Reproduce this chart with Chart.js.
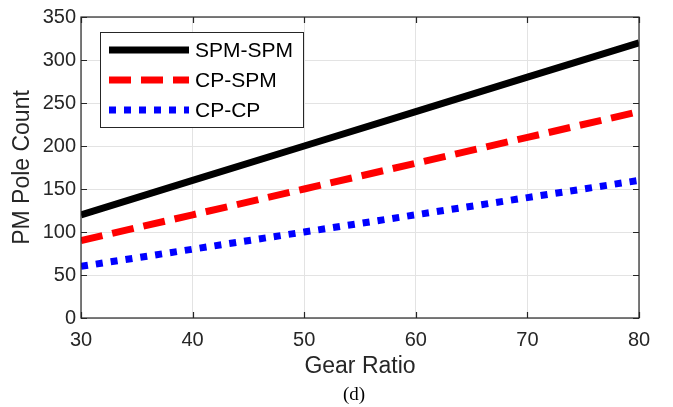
<!DOCTYPE html>
<html>
<head>
<meta charset="utf-8">
<script src="https://cdn.jsdelivr.net/npm/chart.js@4"></script>
<style>
  html, body { margin: 0; padding: 0; background: #fff; }
  #wrap { position: relative; width: 673px; height: 407px; }
</style>
</head>
<body>
<div id="wrap"><canvas id="c" width="673" height="407"></canvas></div>
<script>
// gear ratio vs PM pole count, panel (d)
const gearRatio = [30, 40, 50, 60, 70, 80];
const spmSpm = [120, 160, 200, 240, 280, 320];
const cpSpm = [90, 120, 150, 180, 210, 240];
const cpCp = [60, 80, 100, 120, 140, 160];
const seriesNames = ['SPM-SPM', 'CP-SPM', 'CP-CP'];
const xTicks = [30, 40, 50, 60, 70, 80];
const yTicks = [0, 50, 100, 150, 200, 250, 300, 350];

const AXIS = '#262626';
const FONT = '"Liberation Sans", Arial, sans-serif';

function pts(ys) {
  return gearRatio.map((x, i) => ({x, y: ys[i]}));
}

// MATLAB style: box, inward ticks, legend inside axes, caption under
const matlabBox = {
  id: 'matlabBox',
  afterDraw(chart) {
    const {ctx, chartArea: a, scales} = chart;
    const xs = scales.x, ys = scales.y;
    ctx.save();
    ctx.strokeStyle = AXIS;
    ctx.lineWidth = 1.2;
    ctx.strokeRect(a.left, a.top, a.right - a.left, a.bottom - a.top);
    ctx.beginPath();
    xTicks.forEach(v => {
      const px = Math.round(xs.getPixelForValue(v)) + 0.5;
      ctx.moveTo(px, a.bottom); ctx.lineTo(px, a.bottom - 6);
      ctx.moveTo(px, a.top); ctx.lineTo(px, a.top + 6);
    });
    yTicks.forEach(v => {
      const py = Math.round(ys.getPixelForValue(v)) + 0.5;
      ctx.moveTo(a.left, py); ctx.lineTo(a.left + 6, py);
      ctx.moveTo(a.right, py); ctx.lineTo(a.right - 6, py);
    });
    ctx.stroke();

    // legend
    const lx = 100, ly = 32, lw = 203, lh = 95;
    ctx.fillStyle = '#fff';
    ctx.fillRect(lx, ly, lw, lh);
    ctx.strokeStyle = AXIS;
    ctx.lineWidth = 1;
    ctx.strokeRect(lx + 0.5, ly + 0.5, lw, lh);
    chart.data.datasets.forEach((ds, i) => {
      const y = ly + 18 + i * 30;
      ctx.beginPath();
      ctx.strokeStyle = ds.borderColor;
      ctx.lineWidth = ds.borderWidth;
      ctx.setLineDash(ds.borderDash || []);
      ctx.moveTo(109, y); ctx.lineTo(189, y);
      ctx.stroke();
      ctx.setLineDash([]);
      ctx.fillStyle = '#000';
      ctx.font = '21px ' + FONT;
      ctx.textBaseline = 'middle';
      ctx.textAlign = 'left';
      ctx.fillText(ds.label, 195, y + 1);
    });

    ctx.fillStyle = '#000';
    ctx.font = '19px "Liberation Serif", "Times New Roman", serif';
    ctx.textAlign = 'center';
    ctx.textBaseline = 'middle';
    ctx.fillText('(d)', 354, 395);
    ctx.restore();
  }
};

new Chart(document.getElementById('c'), {
  type: 'line',
  data: {
    datasets: [
      {label: seriesNames[0], data: pts(spmSpm), borderColor: '#000000', borderWidth: 7},
      {label: seriesNames[1], data: pts(cpSpm), borderColor: '#ff0000', borderWidth: 7, borderDash: [22, 10]},
      {label: seriesNames[2], data: pts(cpCp), borderColor: '#0000ff', borderWidth: 7, borderDash: [7, 8]}
    ]
  },
  options: {
    responsive: false,
    animation: false,
    layout: {padding: {left: 0, top: 16, right: 34, bottom: 0}},
    elements: {
      point: {radius: 0},
      line: {tension: 0, borderCapStyle: 'butt', fill: false}
    },
    plugins: {legend: {display: false}, tooltip: {enabled: false}},
    scales: {
      x: {
        type: 'linear', min: 30, max: 80,
        afterFit(s) { s.height = 89; },
        afterBuildTicks(s) { s.ticks = xTicks.map(v => ({value: v})); },
        grid: {color: '#e3e3e3', lineWidth: 1, drawTicks: false},
        border: {display: false},
        ticks: {color: AXIS, font: {family: FONT, size: 20}, padding: 10, maxRotation: 0},
        title: {display: true, text: 'Gear Ratio', color: AXIS, font: {family: FONT, size: 23}, padding: {top: 0, bottom: 27}}
      },
      y: {
        type: 'linear', min: 0, max: 350,
        afterFit(s) { s.width = 81; },
        afterBuildTicks(s) { s.ticks = yTicks.map(v => ({value: v})); },
        grid: {color: '#e3e3e3', lineWidth: 1, drawTicks: false},
        border: {display: false},
        ticks: {color: AXIS, font: {family: FONT, size: 20}, padding: 5},
        title: {display: true, text: 'PM Pole Count', color: AXIS, font: {family: FONT, size: 23}, padding: {top: 9, bottom: 0}}
      }
    }
  },
  plugins: [matlabBox]
});
</script>
</body>
</html>
